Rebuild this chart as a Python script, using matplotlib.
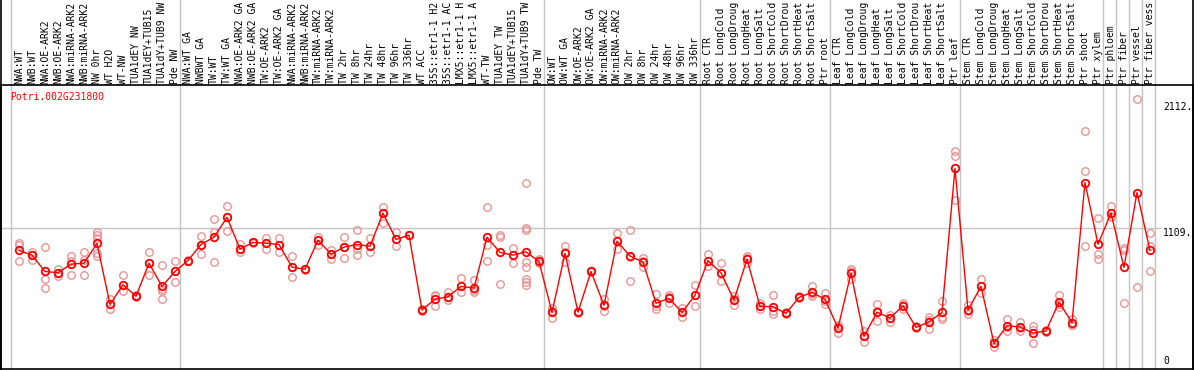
import numpy as np
import matplotlib
matplotlib.use("Agg")
from matplotlib import pyplot as plt
from matplotlib.lines import Line2D

gene_id = "Potri.002G231800"

# names as far as they are visible in the header strip
samples = [
    "NWA:WT", "NWB:WT", "NWA:OE-ARK2", "NWB:OE-ARK2", "NWA:miRNA-ARK2",
    "NWB:miRNA-ARK2", "NW 0hr", "WT H2O", "WT-NW", "TUA1dEY NW",
    "TUA1dEY+TUB15", "TUA1dY+TUB9 NW", "Pde NW",
    "NWA:WT GA", "NWBWT GA", "TW:WT", "TW:WT GA", "NWA:OE-ARK2 GA",
    "NWB:OE-ARK2 GA", "TW:OE-ARK2", "TW:OE-ARK2 GA", "NWA:miRNA-ARK2",
    "NWB:miRNA-ARK2", "TW:miRNA-ARK2", "TW:miRNA-ARK2", "TW 2hr",
    "TW 8hr", "TW 24hr", "TW 48hr", "TW 96hr", "TW 336hr", "WT ACC",
    "35S::etr1-1 H2", "35S::etr1-1 AC", "LMX5::etr1-1 H",
    "LMX5::etr1-1 A", "WT-TW", "TUA1dEY TW", "TUA1dEY+TUB15",
    "TUA1dY+TUB9 TW", "Pde TW",
    "OW:WT", "OW:WT GA", "OW:OE-ARK2", "OW:OE-ARK2 GA", "OW:miRNA-ARK2",
    "OW:miRNA-ARK2", "OW 2hr", "OW 8hr", "OW 24hr", "OW 48hr", "OW 96hr",
    "OW 336hr",
    "Root CTR", "Root LongCold", "Root LongDroug", "Root LongHeat",
    "Root LongSalt", "Root ShortCold", "Root ShortDrou", "Root ShortHeat",
    "Root ShortSalt", "Ptr root",
    "Leaf CTR", "Leaf LongCold", "Leaf LongDroug", "Leaf LongHeat",
    "Leaf LongSalt", "Leaf ShortCold", "Leaf ShortDrou", "Leaf ShortHeat",
    "Leaf ShortSalt", "Ptr leaf",
    "Stem CTR", "Stem LongCold", "Stem LongDroug", "Stem LongHeat",
    "Stem LongSalt", "Stem ShortCold", "Stem ShortDrou", "Stem ShortHeat",
    "Stem ShortSalt", "Ptr shoot", "Ptr xylem",
    "Ptr phloem", "Ptr fiber", "Ptr vessel", "Ptr fiber vess",
]

group_sizes = [13, 28, 12, 10, 10, 11, 1, 1, 1, 1]

means = [
    921, 882, 746, 735, 807, 815, 979, 472, 636, 539, 815, 622, 746,
    837, 970, 1031, 1195, 932, 987, 981, 970, 782, 765, 1006, 890, 948,
    970, 956, 1231, 1012, 1048, 425, 516, 536, 622, 608, 1031, 904, 882,
    909, 829,
    406, 896, 408, 746, 464, 998, 874, 824, 483, 522, 406, 547,
    837, 735, 508, 848, 456, 453, 397, 530, 572, 514,
    276, 732, 206, 408, 359, 461, 281, 326, 405, 1602,
    425, 622, 148, 295, 284, 234, 251, 492, 320, 1485, 973,
    1231, 779, 1402, 921,
]

replicates = [
    [979, 965, 837], [909, 882, 840], [948, 680, 605], [765, 710, 735],
    [874, 829, 713], [904, 843, 713], [1070, 1045, 1020, 901, 876],
    [513, 431, 472], [713, 580, 636], [552, 530, 539], [904, 713, 815],
    [796, 599, 580, 513], [837, 655, 746],
    [845, 830, 837], [1037, 895, 970], [1178, 1070, 827], [1294, 1195, 1086],
    [973, 904, 932], [995, 980, 987], [1026, 934, 981], [1023, 909, 970],
    [871, 696, 782], [770, 760, 765], [1031, 965, 1006], [926, 849, 890],
    [1031, 862, 948], [1089, 934, 879], [1026, 907, 956], [1280, 1145, 1231],
    [1073, 954, 1012], [1050, 1045, 1048], [425, 415, 435], [547, 461, 540],
    [578, 511, 530], [691, 578, 622], [672, 572, 590], [1280, 965, 837],
    [1045, 1030, 641], [937, 813, 882],
    [1485, 1106, 1089, 821, 785, 685, 655, 630], [846, 829, 815],
    [440, 362, 415], [956, 827, 905], [408, 400, 415], [746, 740, 752],
    [513, 420, 460], [1062, 929, 1000], [1089, 666, 867], [854, 785, 830],
    [558, 431, 460], [552, 480, 535], [440, 406, 370], [633, 458, 550],
    [890, 793, 830], [813, 663, 730], [544, 464, 515], [873, 813, 858],
    [483, 431, 456], [547, 395, 420], [405, 390, 397], [540, 525, 530],
    [622, 539, 555], [563, 478, 500],
    [303, 231, 295], [763, 683, 750], [248, 157, 213], [472, 331, 420],
    [383, 330, 360], [480, 430, 465], [290, 272, 281], [367, 267, 345],
    [497, 353, 365], [1751, 1704, 1344],
    [465, 395, 415], [680, 563, 622], [121, 148, 175], [348, 254, 283],
    [323, 254, 276], [292, 148, 262], [260, 245, 250], [547, 453, 476],
    [353, 303, 305], [1917, 1577, 954], [1187, 887, 846],
    [1289, 1200, 1204], [943, 926, 480], [2183, 614], [1067, 959, 746],
]

y_ticks = [0, 1109, 2112]
y_tick_labels = ["0", "1109.", "2112."]

W, H = 1194, 370
MONO = "DejaVu Sans Mono"
FS = 7.0
RED = "#ff0000"
PINK = "#e99595"
GRAY = "#c4c4c4"


def main():
    fig = plt.figure(figsize=(W / 100, H / 100), dpi=100)
    # plot box: x 1..1193 px, y 85..369 px (from top)
    ax = fig.add_axes([1 / W, (H - 369) / H, 1192 / W, 284 / H])

    x = np.arange(1, len(means) + 1)
    # sample i sits at 19 + 13*(i-1) px
    ax.set_xlim(1 + (1 - 19) / 13, 1 + (1193 - 19) / 13)
    ax.set_ylim((361.2 - 369) / 0.1203, (361.2 - 85) / 0.1203)

    ax.set_xticks([])
    ax.set_yticks([])
    for sp in ax.spines.values():
        sp.set_color("black")
        sp.set_linewidth(1.2)

    # horizontal reference line
    ax.plot([0, (1160 - 1) / 1192], [y_ticks[1]] * 2, color=GRAY, lw=1,
            transform=ax.get_yaxis_transform(), zorder=1)

    # group separators run up through the label area
    bounds = np.concatenate([[0], np.cumsum(group_sizes)]) + 0.38
    for b in bounds:
        ax.plot([b, b], [0, 1.3], color=GRAY, lw=1, clip_on=False,
                transform=ax.get_xaxis_transform(), zorder=1)

    for xi, reps in zip(x, replicates):
        ax.plot([xi] * len(reps), reps, "o", ms=5.4, mfc="none", mec=PINK,
                mew=1.0, zorder=2)
    ax.plot(x, means, "-", color=RED, lw=1, zorder=3)
    ax.plot(x, means, "o", ms=5.4, mfc="none", mec=RED, mew=1.3, zorder=4)

    ax.text((10 - 1) / 1192, (369 - 97) / 284, gene_id, color=RED,
            family=MONO, fontsize=FS, ha="left", va="center",
            transform=ax.transAxes)

    for xi, name in zip(x, samples):
        ax.text(xi, (369 - 84) / 284, name, rotation=90, ha="center",
                va="bottom", family=MONO, fontsize=FS, clip_on=False,
                transform=ax.get_xaxis_transform())

    tx = (1163 - 1) / 1192
    for val, lab in zip(y_ticks, y_tick_labels):
        va = "top" if lab == "1109." else "center"
        ax.text(tx, val, lab, ha="left", va=va, family=MONO, fontsize=FS,
                transform=ax.get_yaxis_transform())

    # outer frame lines that continue to the top edge
    for px in (1.0, 1193.0):
        fig.add_artist(Line2D([px / W] * 2, [0, 1], color="black", lw=1.2,
                              transform=fig.transFigure))

    fig.savefig("out.png", dpi=100)


if __name__ == '__main__':
    main()
